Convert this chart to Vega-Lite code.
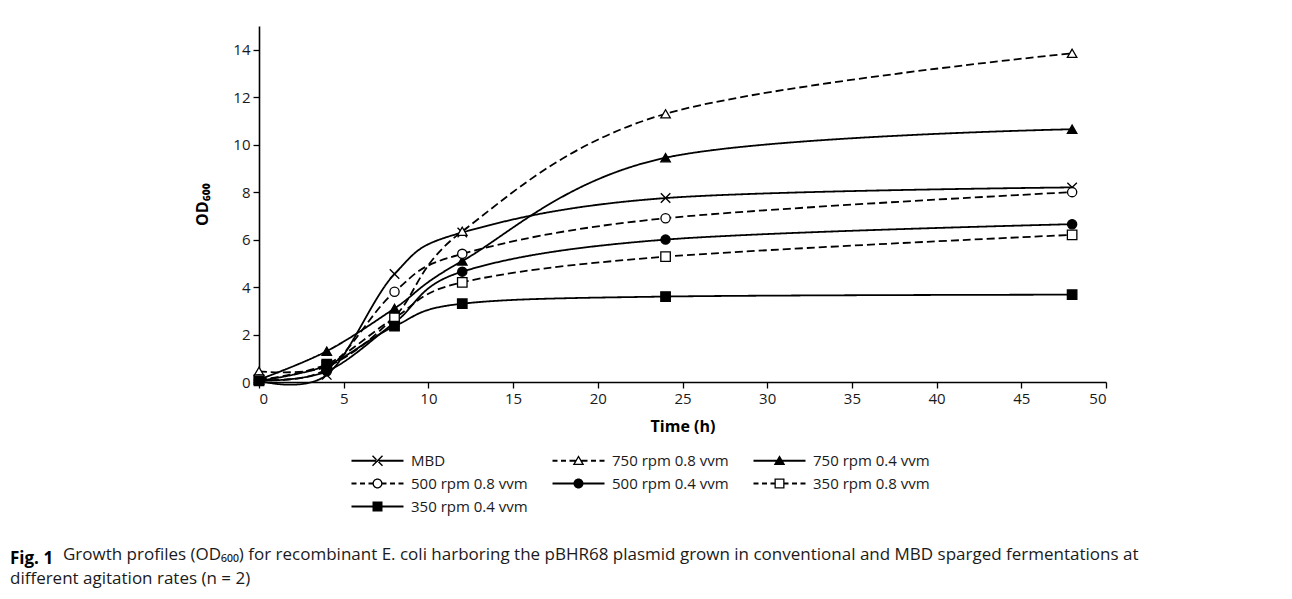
{
  "$schema": "https://vega.github.io/schema/vega-lite/v6.json",
  "width": 847,
  "height": 356,
  "autosize": {"type": "none"},
  "padding": {"left": 259, "top": 26, "right": 186, "bottom": 217},
  "background": "white",
  "config": {
    "view": {"stroke": null},
    "font": "Open Sans",
    "axis": {
      "domainColor": "black",
      "domainWidth": 1.6,
      "tickColor": "black",
      "tickWidth": 1.3,
      "tickSize": 6,
      "grid": false,
      "labelFont": "Open Sans",
      "labelFontSize": 15,
      "labelColor": "#1a1a1a",
      "labelPadding": 3,
      "titleFont": "Open Sans",
      "titleFontSize": 16,
      "titleFontWeight": "bold",
      "titleColor": "black"
    }
  },
  "title": {
    "text": "Fig. 1",
    "subtitle": [
      "\u200b\u00a0\u00a0\u00a0\u00a0\u00a0\u00a0\u00a0\u00a0\u00a0\u00a0\u00a0\u00a0Growth profiles (OD\u2086\u2080\u2080) for recombinant E. coli harboring the pBHR68 plasmid grown in conventional and MBD sparged fermentations at",
      "different agitation rates (n = 2)"
    ],
    "orient": "bottom",
    "anchor": "start",
    "frame": "group",
    "dx": -249,
    "offset": 36,
    "font": "Open Sans",
    "fontSize": 17,
    "fontWeight": "bold",
    "color": "black",
    "subtitleFont": "Open Sans",
    "subtitleFontSize": 17,
    "subtitleColor": "#1a1a1a",
    "subtitlePadding": -21,
    "subtitleLineHeight": 24
  },
  "datasets": {
    "od": [
      {"series": "MBD", "t": 0, "od": 0.05},
      {"series": "MBD", "t": 4, "od": 0.3},
      {"series": "MBD", "t": 8, "od": 4.55},
      {"series": "MBD", "t": 12, "od": 6.3},
      {"series": "MBD", "t": 24, "od": 7.75},
      {"series": "MBD", "t": 48, "od": 8.2},
      {"series": "750 rpm 0.8 vvm", "t": 0, "od": 0.45},
      {"series": "750 rpm 0.8 vvm", "t": 4, "od": 0.65},
      {"series": "750 rpm 0.8 vvm", "t": 8, "od": 2.75},
      {"series": "750 rpm 0.8 vvm", "t": 12, "od": 6.35},
      {"series": "750 rpm 0.8 vvm", "t": 24, "od": 11.3},
      {"series": "750 rpm 0.8 vvm", "t": 48, "od": 13.85},
      {"series": "750 rpm 0.4 vvm", "t": 0, "od": 0.1},
      {"series": "750 rpm 0.4 vvm", "t": 4, "od": 1.3},
      {"series": "750 rpm 0.4 vvm", "t": 8, "od": 3.1},
      {"series": "750 rpm 0.4 vvm", "t": 12, "od": 5.1},
      {"series": "750 rpm 0.4 vvm", "t": 24, "od": 9.45},
      {"series": "750 rpm 0.4 vvm", "t": 48, "od": 10.65},
      {"series": "500 rpm 0.8 vvm", "t": 0, "od": 0.1},
      {"series": "500 rpm 0.8 vvm", "t": 4, "od": 0.55},
      {"series": "500 rpm 0.8 vvm", "t": 8, "od": 3.8},
      {"series": "500 rpm 0.8 vvm", "t": 12, "od": 5.4},
      {"series": "500 rpm 0.8 vvm", "t": 24, "od": 6.9},
      {"series": "500 rpm 0.8 vvm", "t": 48, "od": 8.0},
      {"series": "500 rpm 0.4 vvm", "t": 0, "od": 0.05},
      {"series": "500 rpm 0.4 vvm", "t": 4, "od": 0.45},
      {"series": "500 rpm 0.4 vvm", "t": 8, "od": 2.5},
      {"series": "500 rpm 0.4 vvm", "t": 12, "od": 4.65},
      {"series": "500 rpm 0.4 vvm", "t": 24, "od": 6.0},
      {"series": "500 rpm 0.4 vvm", "t": 48, "od": 6.65},
      {"series": "350 rpm 0.8 vvm", "t": 0, "od": 0.1},
      {"series": "350 rpm 0.8 vvm", "t": 4, "od": 0.75},
      {"series": "350 rpm 0.8 vvm", "t": 8, "od": 2.7},
      {"series": "350 rpm 0.8 vvm", "t": 12, "od": 4.2},
      {"series": "350 rpm 0.8 vvm", "t": 24, "od": 5.28},
      {"series": "350 rpm 0.8 vvm", "t": 48, "od": 6.2},
      {"series": "350 rpm 0.4 vvm", "t": 0, "od": 0.05},
      {"series": "350 rpm 0.4 vvm", "t": 4, "od": 0.7},
      {"series": "350 rpm 0.4 vvm", "t": 8, "od": 2.35},
      {"series": "350 rpm 0.4 vvm", "t": 12, "od": 3.3},
      {"series": "350 rpm 0.4 vvm", "t": 24, "od": 3.6},
      {"series": "350 rpm 0.4 vvm", "t": 48, "od": 3.68}
    ]
  },
  "data": {"name": "od"},
  "encoding": {
    "x": {
      "field": "t",
      "type": "quantitative",
      "scale": {"domain": [0, 50], "nice": false, "zero": true},
      "axis": {"values": [0, 5, 10, 15, 20, 25, 30, 35, 40, 45, 50], "title": "Time (h)", "titlePadding": 12}
    },
    "y": {
      "field": "od",
      "type": "quantitative",
      "scale": {"domain": [0, 15], "nice": false},
      "axis": {"values": [0, 2, 4, 6, 8, 10, 12, 14], "title": "OD\u2086\u2080\u2080", "titlePadding": 22}
    }
  },
  "layer": [
    {
      "transform": [{"filter": "datum.t == 0"}],
      "mark": {"type": "point", "filled": true, "color": "black", "size": 100, "opacity": 0},
      "encoding": {
        "shape": {
          "field": "series",
          "type": "nominal",
          "scale": {
            "domain": ["MBD", "750 rpm 0.8 vvm", "750 rpm 0.4 vvm", "500 rpm 0.8 vvm", "500 rpm 0.4 vvm", "350 rpm 0.8 vvm", "350 rpm 0.4 vvm"],
            "range": [
              "M-5.2,-0.18V0.18H5.2V-0.18ZM-1.1,-0.9L-0.9,-1.1L1.1,0.9L0.9,1.1ZM-1.1,0.9L-0.9,1.1L1.1,-0.9L0.9,-1.1Z",
              "M-5.2,-0.18V0.18H-4.2V-0.18ZM-3.5,-0.18V0.18H-2.5V-0.18ZM-1.8,-0.18V0.18H-0.6V-0.18ZM0.6,-0.18V0.18H1.8V-0.18ZM2.5,-0.18V0.18H3.5V-0.18ZM4.2,-0.18V0.18H5.2V-0.18ZM0,-1.1L-1.15,0.85L1.15,0.85ZM0,-0.59L0.69,0.59L-0.69,0.59Z",
              "M-5.2,-0.18V0.18H5.2V-0.18ZM0,-1.1L-1.15,0.85L1.15,0.85Z",
              "M-5.2,-0.18V0.18H-4.2V-0.18ZM-3.5,-0.18V0.18H-2.5V-0.18ZM-1.8,-0.18V0.18H-0.95V-0.18ZM0.95,-0.18V0.18H1.8V-0.18ZM2.5,-0.18V0.18H3.5V-0.18ZM4.2,-0.18V0.18H5.2V-0.18ZM-1,0A1,1,0,1,0,1,0A1,1,0,1,0,-1,0ZM-0.74,0A0.74,0.74,0,1,1,0.74,0A0.74,0.74,0,1,1,-0.74,0Z",
              "M-5.2,-0.18V0.18H5.2V-0.18ZM-1,0A1,1,0,1,0,1,0A1,1,0,1,0,-1,0Z",
              "M-5.2,-0.18V0.18H-4.2V-0.18ZM-3.5,-0.18V0.18H-2.5V-0.18ZM-1.8,-0.18V0.18H-0.95V-0.18ZM0.95,-0.18V0.18H1.8V-0.18ZM2.5,-0.18V0.18H3.5V-0.18ZM4.2,-0.18V0.18H5.2V-0.18ZM-1,-1V1H1V-1ZM-0.74,-0.74H0.74V0.74H-0.74Z",
              "M-5.2,-0.18V0.18H5.2V-0.18ZM-1,-1V1H1V-1Z"
            ]
          },
          "legend": {
            "title": null,
            "orient": "none",
            "direction": "horizontal",
            "legendX": 111,
            "legendY": 427,
            "columns": 3,
            "symbolSize": 100,
            "symbolFillColor": "black",
            "symbolStrokeWidth": 0,
            "symbolOpacity": 1,
            "labelFont": "Open Sans",
            "labelFontSize": 15,
            "labelColor": "#1a1a1a",
            "labelOffset": 26,
            "labelLimit": 300,
            "columnPadding": 24,
            "rowPadding": 7
          }
        }
      }
    },
    {
      "mark": {"type": "line", "interpolate": "cardinal", "strokeWidth": 1.8, "color": "black"},
      "encoding": {
        "detail": {"field": "series"},
        "strokeDash": {
          "field": "series",
          "type": "nominal",
          "scale": {
            "domain": ["MBD", "750 rpm 0.8 vvm", "750 rpm 0.4 vvm", "500 rpm 0.8 vvm", "500 rpm 0.4 vvm", "350 rpm 0.8 vvm", "350 rpm 0.4 vvm"],
            "range": [[1, 0], [8, 4], [1, 0], [8, 4], [1, 0], [8, 4], [1, 0]]
          },
          "legend": null
        }
      }
    },
    {
      "transform": [{"filter": "datum.series == 'MBD'"}],
      "mark": {"type": "point", "shape": "M-1,-1L1,1M-1,1L1,-1", "filled": false, "stroke": "black", "strokeWidth": 1.4, "size": 90, "opacity": 1}
    },
    {
      "transform": [{"filter": "datum.series == '750 rpm 0.8 vvm'"}],
      "mark": {"type": "point", "shape": "triangle-up", "filled": true, "fill": "white", "stroke": "black", "strokeWidth": 1.3, "size": 90, "opacity": 1}
    },
    {
      "transform": [{"filter": "datum.series == '750 rpm 0.4 vvm'"}],
      "mark": {"type": "point", "shape": "triangle-up", "filled": true, "fill": "black", "stroke": "black", "strokeWidth": 1.3, "size": 90, "opacity": 1}
    },
    {
      "transform": [{"filter": "datum.series == '500 rpm 0.8 vvm'"}],
      "mark": {"type": "point", "shape": "circle", "filled": true, "fill": "white", "stroke": "black", "strokeWidth": 1.3, "size": 85, "opacity": 1}
    },
    {
      "transform": [{"filter": "datum.series == '500 rpm 0.4 vvm'"}],
      "mark": {"type": "point", "shape": "circle", "filled": true, "fill": "black", "stroke": "black", "strokeWidth": 1.3, "size": 85, "opacity": 1}
    },
    {
      "transform": [{"filter": "datum.series == '350 rpm 0.8 vvm'"}],
      "mark": {"type": "point", "shape": "square", "filled": true, "fill": "white", "stroke": "black", "strokeWidth": 1.3, "size": 90, "opacity": 1}
    },
    {
      "transform": [{"filter": "datum.series == '350 rpm 0.4 vvm'"}],
      "mark": {"type": "point", "shape": "square", "filled": true, "fill": "black", "stroke": "black", "strokeWidth": 1.3, "size": 90, "opacity": 1}
    }
  ]
}
